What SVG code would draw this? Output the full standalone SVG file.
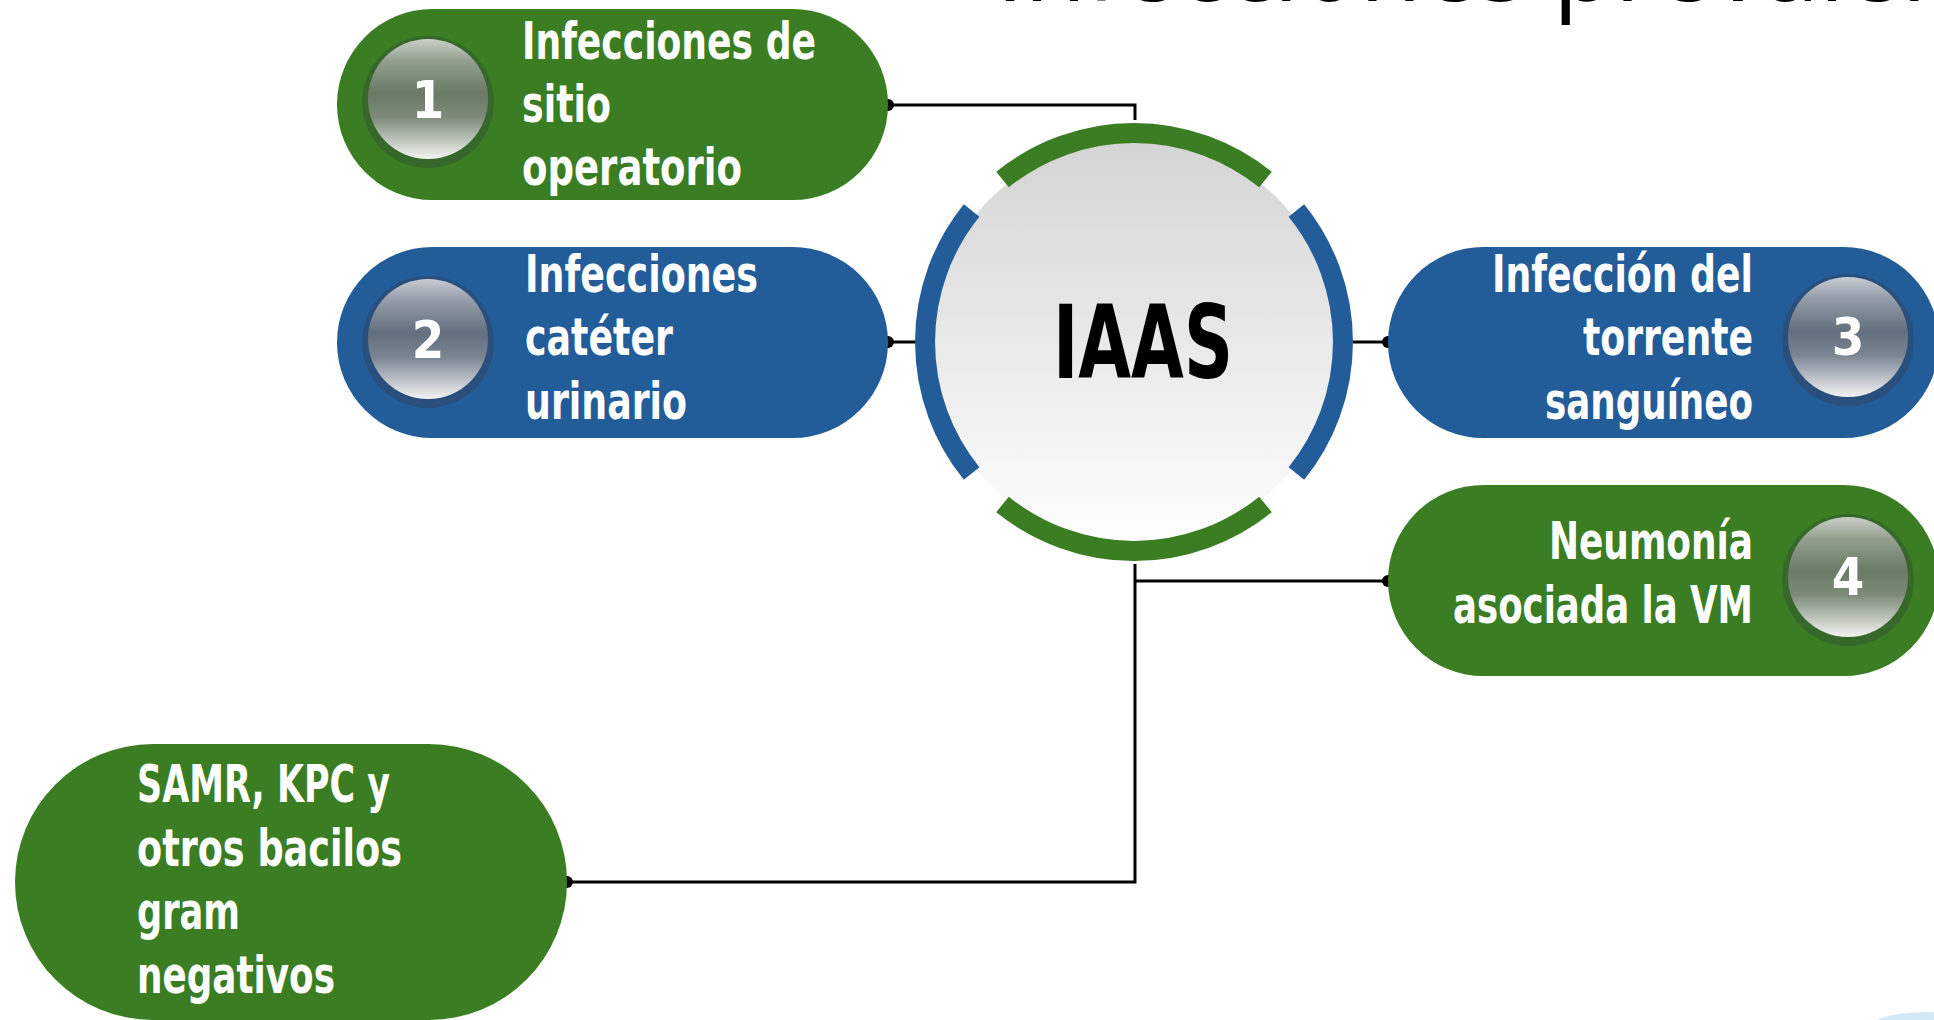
<svg xmlns="http://www.w3.org/2000/svg" width="1934" height="1020" viewBox="0 0 1934 1020">
<defs>
<style>
.green{fill:#3b7d23}
.blue{fill:#225c99}
.lbl{font-family:"DejaVu Sans Condensed","DejaVu Sans",sans-serif;font-stretch:condensed;font-weight:bold;font-size:51px;fill:#ffffff}
.num{font-family:"DejaVu Sans Condensed","DejaVu Sans",sans-serif;font-stretch:condensed;font-weight:bold;font-size:52px;fill:#ffffff;text-anchor:middle}
.end{text-anchor:end}
.conn{fill:none;stroke:#000;stroke-width:3}
.dot{fill:#000}
.arcG{fill:none;stroke:#3b7d23;stroke-width:20}
.arcB{fill:none;stroke:#225c99;stroke-width:20}
</style>
<linearGradient id="glassG" x1="0" y1="0" x2="0" y2="1">
<stop offset="0" stop-color="#c9d0c6"/>
<stop offset="0.18" stop-color="#93a08f"/>
<stop offset="0.45" stop-color="#6a7a66"/>
<stop offset="0.65" stop-color="#7d8a79"/>
<stop offset="1" stop-color="#f3f5f1"/>
</linearGradient>
<linearGradient id="glassB" x1="0" y1="0" x2="0" y2="1">
<stop offset="0" stop-color="#c8ccd3"/>
<stop offset="0.18" stop-color="#949ca8"/>
<stop offset="0.45" stop-color="#636f7e"/>
<stop offset="0.65" stop-color="#7a8492"/>
<stop offset="1" stop-color="#f2f3f5"/>
</linearGradient>
<linearGradient id="core" x1="0" y1="0" x2="0" y2="1">
<stop offset="0" stop-color="#d4d4d4"/>
<stop offset="1" stop-color="#fefefe"/>
</linearGradient>
</defs>
<rect width="1934" height="1020" fill="#ffffff"/>
<text x="996" y="1" style="font-family:'Open Sans',sans-serif;font-size:101px;fill:#000">Infecciones prevalentes</text>
<ellipse cx="1925" cy="1032" rx="60" ry="20" fill="#d2e8f7"/>

<g id="connectors">
<path class="conn" d="M888,105 H1135 V120"/>
<path class="conn" d="M888,342 H917"/>
<path class="conn" d="M1353,342 H1388"/>
<path class="conn" d="M1135,564 V882 H567"/>
<path class="conn" d="M1135,581 H1388"/>
<circle class="dot" cx="888" cy="105" r="6"/>
<circle class="dot" cx="888" cy="342" r="6"/>
<circle class="dot" cx="1388" cy="342" r="6"/>
<circle class="dot" cx="1388" cy="581" r="6"/>
<circle class="dot" cx="567" cy="882" r="6"/>
</g>

<g id="center">
<circle cx="1134" cy="342" r="203" fill="url(#core)"/>
<path class="arcG" d="M1002.5,179.6 A209,209 0 0 1 1265.5,179.6"/>
<path class="arcG" d="M1265.5,504.4 A209,209 0 0 1 1002.5,504.4"/>
<path class="arcB" d="M1296.4,210.5 A209,209 0 0 1 1296.4,473.5"/>
<path class="arcB" d="M971.6,473.5 A209,209 0 0 1 971.6,210.5"/>
<text x="1143" y="378" text-anchor="middle" textLength="180" lengthAdjust="spacingAndGlyphs" style="font-family:'DejaVu Sans Condensed','DejaVu Sans',sans-serif;font-stretch:condensed;font-weight:bold;font-size:101px;fill:#000">IAAS</text>
</g>

<g id="node1">
<rect class="green" x="337" y="9" width="551" height="191" rx="95.5"/>
<circle cx="428" cy="102" r="66" fill="#36682b"/>
<circle cx="428" cy="99" r="60" fill="url(#glassG)"/>
<text class="num" x="428" y="118">1</text>
<text class="lbl" x="522" y="59" textLength="294" lengthAdjust="spacingAndGlyphs">Infecciones de</text>
<text class="lbl" x="522" y="122" textLength="89" lengthAdjust="spacingAndGlyphs">sitio</text>
<text class="lbl" x="522" y="185" textLength="220" lengthAdjust="spacingAndGlyphs">operatorio</text>
</g>

<g id="node2">
<rect class="blue" x="337" y="247" width="551" height="191" rx="95.5"/>
<circle cx="428" cy="342" r="66" fill="#2a4f7c"/>
<circle cx="428" cy="339" r="60" fill="url(#glassB)"/>
<text class="num" x="428" y="358">2</text>
<text class="lbl" x="525" y="292" textLength="233" lengthAdjust="spacingAndGlyphs">Infecciones</text>
<text class="lbl" x="525" y="355" textLength="148" lengthAdjust="spacingAndGlyphs">catéter</text>
<text class="lbl" x="525" y="419" textLength="162" lengthAdjust="spacingAndGlyphs">urinario</text>
</g>

<g id="node3">
<rect class="blue" x="1388" y="247" width="551" height="191" rx="95.5"/>
<circle cx="1848" cy="340" r="66" fill="#2a4f7c"/>
<circle cx="1848" cy="337" r="60" fill="url(#glassB)"/>
<text class="num" x="1848" y="355">3</text>
<text class="lbl end" x="1753" y="292" textLength="261" lengthAdjust="spacingAndGlyphs">Infección del</text>
<text class="lbl end" x="1753" y="355" textLength="170" lengthAdjust="spacingAndGlyphs">torrente</text>
<text class="lbl end" x="1753" y="419" textLength="208" lengthAdjust="spacingAndGlyphs">sanguíneo</text>
</g>

<g id="node4">
<rect class="green" x="1388" y="485" width="551" height="191" rx="95.5"/>
<circle cx="1848" cy="580" r="66" fill="#36682b"/>
<circle cx="1848" cy="577" r="60" fill="url(#glassG)"/>
<text class="num" x="1848" y="595">4</text>
<text class="lbl end" x="1753" y="559" textLength="204" lengthAdjust="spacingAndGlyphs">Neumonía</text>
<text class="lbl end" x="1753" y="623" textLength="300" lengthAdjust="spacingAndGlyphs">asociada la VM</text>
</g>

<g id="node5">
<rect class="green" x="15" y="744" width="552" height="276" rx="138"/>
<text class="lbl" x="137" y="802" textLength="253" lengthAdjust="spacingAndGlyphs">SAMR, KPC y</text>
<text class="lbl" x="137" y="866" textLength="265" lengthAdjust="spacingAndGlyphs">otros bacilos</text>
<text class="lbl" x="137" y="929" textLength="103" lengthAdjust="spacingAndGlyphs">gram</text>
<text class="lbl" x="137" y="993" textLength="198" lengthAdjust="spacingAndGlyphs">negativos</text>
</g>
</svg>
